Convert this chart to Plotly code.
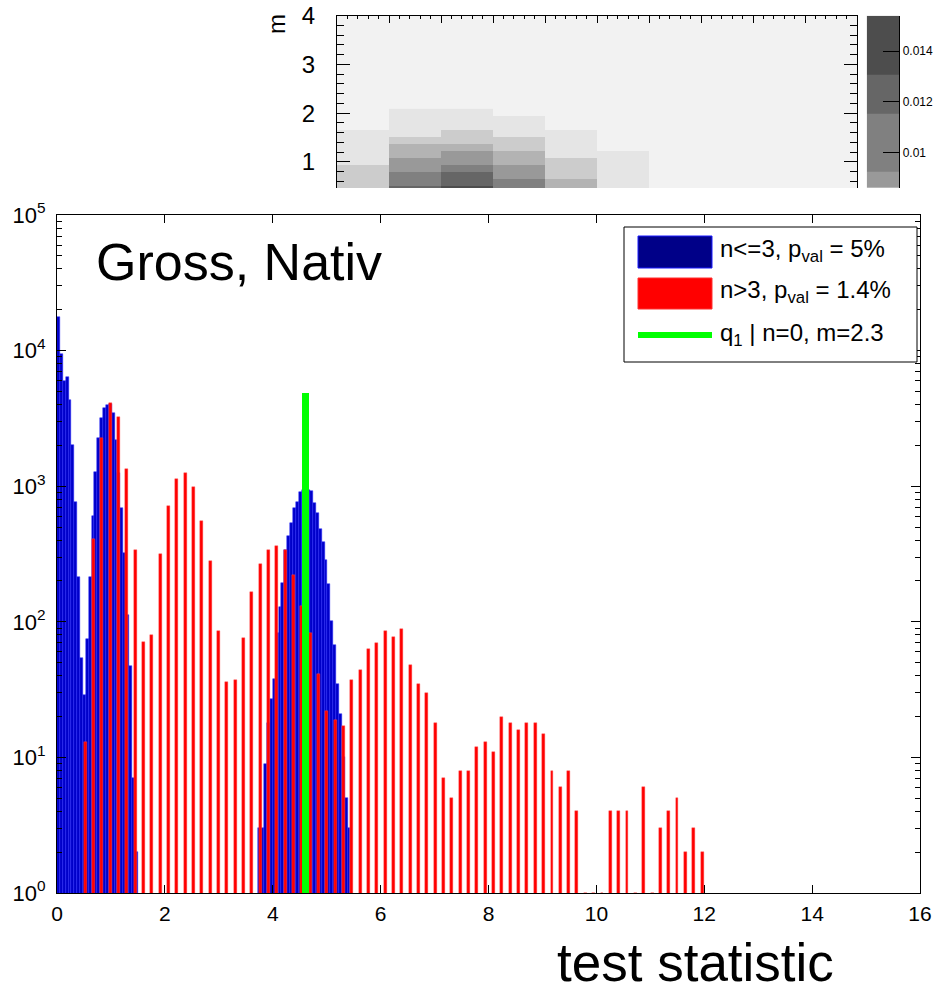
import numpy as np
import plotly.graph_objects as go

W, H = 935, 986
FONT = "Liberation Sans, Arial, Helvetica, sans-serif"

def px(x):
    return x / W

def py(y):
    return 1 - y / H

# ---------------- data ----------------
BIN = 16.0 / 300.0  # blue histogram bin width

# n<=3 distribution (blue), counts per bin, bins 0..101 (0 = empty)
blue_counts = (
    [17800, 9440, 6000, 6350, 4320, 2010, 765, 213, 54, 29, 75, 213, 603, 1270,
     2280, 3170, 3750, 4000, 4040, 3450, 2190, 1245, 687, 323, 112, 47, 7, 2]
    + [0] * 42
    + [3, 3, 9, 18, 27, 38, 82, 128, 192, 338, 430, 538, 687, 760, 912, 940,
       960, 940, 922, 755, 630, 483, 387, 286, 190, 101, 68, 35, 21, 10, 5, 3]
)

# n>3 distribution (red), discrete test-statistic values and counts
red_x = [0.520, 0.674, 0.829, 0.984, 1.138, 1.293, 1.447, 1.602, 1.756, 1.911,
         2.066, 2.220, 2.375, 2.529, 2.684, 2.839, 2.993, 3.148, 3.302, 3.457,
         3.611, 3.766, 3.921, 4.075, 4.230, 4.384, 4.539, 4.694, 4.848, 5.003,
         5.157, 5.312, 5.467, 5.621, 5.776, 5.930, 6.085, 6.239, 6.394, 6.549,
         6.703, 6.858, 7.012, 7.167, 7.322, 7.476, 7.631, 7.785, 7.940, 8.094,
         8.249, 8.404, 8.558, 8.713, 8.867, 9.022, 9.177, 9.331, 9.486, 9.640,
         9.795, 9.950, 10.104, 10.259, 10.413, 10.568, 10.722, 10.877, 11.032, 11.186,
         11.341, 11.495, 11.650, 11.805, 11.959]
red_counts = [13, 406, 2280, 4130, 3220, 1340, 340, 71, 80, 316,
              718, 1130, 1245, 991, 554, 281, 85, 36, 37, 76,
              166, 268, 337, 362, 338, 221, 130, 82, 41, 22,
              19, 17, 37, 44, 63, 70, 85, 77, 88, 48,
              35, 30, 18, 7, 5, 8, 8, 12, 13, 11,
              20, 18, 16, 18, 18, 15, 8, 6, 8, 4,
              1, 1, 1, 4, 4, 4, 1, 6, 1, 3,
              4, 5, 2, 3, 2]

# observed q1 (green)
q1_obs = [4.61]
q1_height = [4900]

# inset map: probability vs (n, m)
hm_x_edges = [0, 1, 2, 3, 4, 5, 6]
hm_m_edges = [0.366, 0.509, 0.652, 0.796, 0.939, 1.083, 1.226, 1.369,
              1.513, 1.656, 1.799, 1.943, 2.086]
N = None
hm_prob = [  # rows: m bins (bottom -> top), columns: n bins
    [0.004, 0.0123, 0.0140, 0.0104, 0.006, 0.002],
    [0.004, 0.0104, 0.0123, 0.0104, 0.006, 0.002],
    [0.004, 0.0104, 0.0123, 0.008, 0.004, 0.002],
    [0.004, 0.008, 0.0104, 0.008, 0.004, 0.002],
    [0.002, 0.008, 0.008, 0.006, 0.004, 0.002],
    [0.002, 0.006, 0.008, 0.006, 0.002, 0.002],
    [0.002, 0.006, 0.006, 0.004, 0.002, N],
    [0.002, 0.004, 0.004, 0.004, 0.002, N],
    [0.002, 0.002, 0.004, 0.002, 0.002, N],
    [N, 0.002, 0.002, 0.002, N, N],
    [N, 0.002, 0.002, 0.002, N, N],
    [N, 0.002, 0.002, N, N, N],
]

# colour levels of the palette
level_edges = [0.0, 0.001, 0.003, 0.005, 0.007, 0.00923, 0.01152, 0.01306, 0.0154]
level_colors = ["#f2f2f2", "#e5e5e5", "#cccccc", "#b3b3b3", "#999999",
                "#808080", "#666666", "#4d4d4d"]
cb_vmin, cb_vmax = 0.0086, 0.0154
cb_ticks = [0.010, 0.012, 0.014]
cb_ticktext = ["0.01", "0.012", "0.014"]

x_ticks = [0, 2, 4, 6, 8, 10, 12, 14, 16]
y_ticks = [1, 10, 100, 1000, 10000, 100000]
y_ticktext = ["10<sup>0</sup>", "10<sup>1</sup>", "10<sup>2</sup>",
              "10<sup>3</sup>", "10<sup>4</sup>", "10<sup>5</sup>"]

# ---------------- figure ----------------
zmax = level_edges[-1]
cs = []
for i, c in enumerate(level_colors):
    cs.append([level_edges[i] / zmax, c])
    cs.append([level_edges[i + 1] / zmax, c])

blue_centers = (np.arange(len(blue_counts)) + 0.5) * BIN
bmask = np.array(blue_counts) > 0
fig = go.Figure()
fig.add_trace(go.Bar(
    x=blue_centers[bmask], y=np.array(blue_counts)[bmask], width=BIN,
    marker=dict(color="#0000c8", line=dict(color="#2a2aff", width=0.5)),
    xaxis="x", yaxis="y", showlegend=False, hoverinfo="skip"))
fig.add_trace(go.Bar(
    x=red_x, y=red_counts, width=0.055,
    marker=dict(color="#ff0000", line=dict(color="#ff5050", width=0.4)),
    xaxis="x", yaxis="y", showlegend=False, hoverinfo="skip"))
fig.add_trace(go.Bar(
    x=q1_obs, y=q1_height, width=0.135,
    marker=dict(color="#00ff00", line=dict(width=0)),
    xaxis="x", yaxis="y", showlegend=False, hoverinfo="skip"))

fig.add_trace(go.Heatmap(
    x=hm_x_edges, y=hm_m_edges, z=hm_prob, colorscale=cs, zmin=0, zmax=zmax,
    showscale=False, xaxis="x2", yaxis="y2", hoverinfo="skip"))

# colour-bar drawn as a narrow heatmap
cb_edges = [cb_vmin] + [e for e in level_edges if cb_vmin < e < cb_vmax] + [cb_vmax]
cb_vals = [[(cb_edges[i] + cb_edges[i + 1]) / 2] for i in range(len(cb_edges) - 1)]
fig.add_trace(go.Heatmap(
    x=[0, 1], y=cb_edges, z=cb_vals, colorscale=cs, zmin=0, zmax=zmax,
    showscale=False, xaxis="x3", yaxis="y3", hoverinfo="skip"))

minor_y = [m * 10 ** e for e in range(0, 5) for m in range(2, 10)]

axis_common = dict(showgrid=False, zeroline=False, showline=True,
                   linecolor="black", linewidth=1, tickcolor="black",
                   automargin=False)

fig.update_layout(
    width=W, height=H, margin=dict(l=0, r=0, t=0, b=0, pad=0, autoexpand=False),
    paper_bgcolor="white", plot_bgcolor="white",
    barmode="overlay", bargap=0,
    font=dict(family=FONT, color="black"),
    xaxis=dict(domain=[px(57), px(920)], range=[0, 16], tickvals=x_ticks,
               ticks="inside", ticklen=8, mirror="allticks", anchor="y",
               tickfont=dict(size=21, color="black"), ticklabelstandoff=2,
               **axis_common),
    yaxis=dict(domain=[py(893), py(215)], type="log", range=[0, 5],
               tickvals=y_ticks, ticktext=y_ticktext, ticks="inside", ticklen=9,
               minor=dict(tickvals=minor_y, ticks="inside", ticklen=5,
                          tickcolor="black"),
               mirror="allticks", anchor="x", tickfont=dict(size=22, color="black"),
               ticklabelstandoff=6, **axis_common),
    xaxis2=dict(domain=[px(337), px(857)], range=[0, 10], dtick=1, side="top",
                ticks="inside", ticklen=7, showticklabels=False,
                minor=dict(dtick=0.2, ticks="inside", ticklen=3.5, tickcolor="black"),
                anchor="y2", **axis_common),
    yaxis2=dict(domain=[py(188), py(15.7)], range=[0.462, 4], dtick=1,
                ticks="inside", ticklen=13, mirror="allticks",
                minor=dict(dtick=0.2, ticks="inside", ticklen=7, tickcolor="black"),
                tickfont=dict(size=24, color="black"), ticklabelstandoff=16,
                anchor="x2", **axis_common),
    xaxis3=dict(domain=[px(866.7), px(899.3)], range=[0, 1], visible=False,
                anchor="y3", automargin=False),
    yaxis3=dict(domain=[py(188), py(15.7)], range=[cb_vmin, cb_vmax], side="right",
                tickvals=cb_ticks, ticktext=cb_ticktext, ticks="inside",
                ticklen=16, anchor="x3", tickfont=dict(size=12, color="black"),
                ticklabelstandoff=0, **axis_common),
)

shapes = [
    # inset frame background
    dict(type="rect", xref="x2 domain", yref="y2 domain", x0=0, x1=1, y0=0, y1=1,
         fillcolor="#f2f2f2", line=dict(width=0), layer="below"),
    # legend box
    dict(type="rect", xref="paper", yref="paper", x0=px(624), x1=px(917),
         y0=py(362), y1=py(227), fillcolor="white",
         line=dict(color="black", width=1), layer="above"),
    dict(type="rect", xref="paper", yref="paper", x0=px(638), x1=px(712),
         y0=py(268), y1=py(236), fillcolor="#000088",
         line=dict(color="#1a1aff", width=1), layer="above"),
    dict(type="rect", xref="paper", yref="paper", x0=px(638), x1=px(712),
         y0=py(309), y1=py(278), fillcolor="#ff0000",
         line=dict(color="#ff3030", width=1), layer="above"),
    dict(type="line", xref="paper", yref="paper", x0=px(638), x1=px(712),
         y0=py(335), y1=py(335), line=dict(color="#00ff00", width=6), layer="above"),
]

ann = [
    dict(text="m", x=px(277), y=py(24), textangle=-90, font=dict(size=24)),
    dict(text="Gross, Nativ", x=px(94), y=py(262), xanchor="left",
         font=dict(size=52)),
    dict(text="test statistic", x=px(836), y=py(962), xanchor="right",
         font=dict(size=53)),
    dict(text="n&lt;=3, p<sub>val</sub> = 5%", x=px(718), y=py(250),
         xanchor="left", font=dict(size=24)),
    dict(text="n&gt;3, p<sub>val</sub> = 1.4%", x=px(718), y=py(291),
         xanchor="left", font=dict(size=24)),
    dict(text="q<sub>1</sub> | n=0, m=2.3", x=px(718), y=py(334),
         xanchor="left", font=dict(size=24)),
]
for a in ann:
    a.setdefault("xref", "paper")
    a.setdefault("yref", "paper")
    a.setdefault("showarrow", False)
    a.setdefault("yanchor", "middle")
    a.setdefault("xanchor", "center")

fig.update_layout(shapes=shapes, annotations=ann)
fig.write_html(
    "out.html",
    config={"displayModeBar": False},
    post_script="document.body.style.margin='0';document.body.style.padding='0';"
                "document.documentElement.style.overflow='hidden';",
)
